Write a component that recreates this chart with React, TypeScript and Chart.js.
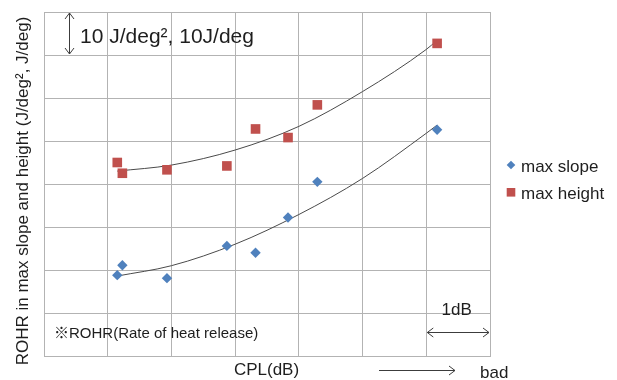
import React, { useEffect, useRef } from "react";
import { Chart, registerables } from "chart.js";

Chart.register(...registerables);

// CPL offset (dB) of each measurement
const cplValues = [1.15, 1.23, 1.93, 2.87, 3.32, 3.83, 4.29, 6.17];
// ROHR max slope (J/deg^2)
const maxSlope = [18.8, 21.1, 18.1, 25.6, 24.0, 32.2, 40.5, 52.6];
// ROHR max height (J/deg)
const maxHeight = [45.0, 42.5, 43.3, 44.2, 52.8, 50.8, 58.4, 72.7];

// trendline points
const trendX = [1.15, 2, 3, 4, 5, 6, 6.17];
const slopeTrend = [18.6, 21.0, 26.0, 32.9, 41.3, 51.8, 53.7];
const heightTrend = [43.0, 44.4, 47.9, 53.4, 61.5, 71.3, 73.4];

const legendLabels = ["max slope", "max height"];
const yTitle = "ROHR in max slope and height (J/deg\u00B2, J/deg)";
const xTitle = "CPL(dB)";
const scaleNote = "10 J/deg\u00B2, 10J/deg";
const rohrNote = "\u203BROHR(Rate of heat release)";
const dbNote = "1dB";
const badNote = "bad";

const FONT = '"Liberation Sans", Arial, "Noto Sans CJK JP", sans-serif';
const BLUE = "#4F81BD";
const RED = "#C0504D";
const TEXT = "#1e1e1e";

function arrowHead(ctx: CanvasRenderingContext2D, x: number, y: number, dx: number, dy: number, s: number) {
  // open chevron pointing in direction (dx, dy)
  const px = -dy, py = dx;
  ctx.beginPath();
  ctx.moveTo(x - dx * s + px * s * 0.75, y - dy * s + py * s * 0.75);
  ctx.lineTo(x, y);
  ctx.lineTo(x - dx * s - px * s * 0.75, y - dy * s - py * s * 0.75);
  ctx.stroke();
}

const annotationPlugin = {
  id: "annotations",
  afterDraw(chart: any) {
    const ctx: CanvasRenderingContext2D = chart.ctx;
    const xs = chart.scales.x;
    const ys = chart.scales.y;
    ctx.save();
    ctx.fillStyle = TEXT;
    ctx.strokeStyle = "#3c3c3c";
    ctx.lineWidth = 1;

    // Y axis title
    ctx.save();
    ctx.translate(23, 191);
    ctx.rotate(-Math.PI / 2);
    ctx.font = `17px ${FONT}`;
    ctx.textAlign = "center";
    ctx.textBaseline = "middle";
    ctx.fillText(yTitle, 0, 0);
    ctx.restore();

    // X axis title
    ctx.font = `17px ${FONT}`;
    ctx.textAlign = "center";
    ctx.textBaseline = "alphabetic";
    ctx.fillText(xTitle, 266.5, 374.5);

    // vertical 10-unit arrow
    const ax = 69.5;
    const yTop = ys.getPixelForValue(80);
    const yBot = ys.getPixelForValue(70);
    ctx.beginPath();
    ctx.moveTo(ax, yTop + 1);
    ctx.lineTo(ax, yBot - 1);
    ctx.stroke();
    arrowHead(ctx, ax, yTop + 1, 0, -1, 6);
    arrowHead(ctx, ax, yBot - 1, 0, 1, 6);

    ctx.font = `21px ${FONT}`;
    ctx.textAlign = "left";
    ctx.fillText(scaleNote, 80, 42.5);

    // ROHR note
    ctx.font = `15px ${FONT}`;
    ctx.fillText(rohrNote, 54, 338);

    // 1dB arrow
    const x6 = xs.getPixelForValue(6);
    const x7 = xs.getPixelForValue(7);
    const ay = 332.5;
    ctx.beginPath();
    ctx.moveTo(x6 + 1, ay);
    ctx.lineTo(x7 - 1, ay);
    ctx.stroke();
    arrowHead(ctx, x6 + 1, ay, -1, 0, 6);
    arrowHead(ctx, x7 - 1, ay, 1, 0, 6);
    ctx.font = `17px ${FONT}`;
    ctx.fillText(dbNote, 441.5, 315);

    // bad arrow
    const by = 370.5;
    ctx.beginPath();
    ctx.moveTo(379, by);
    ctx.lineTo(455, by);
    ctx.stroke();
    arrowHead(ctx, 455, by, 1, 0, 6);
    ctx.fillText(badNote, 480, 378);

    // legend
    ctx.fillStyle = BLUE;
    ctx.beginPath();
    ctx.moveTo(511, 160.7);
    ctx.lineTo(515.3, 165);
    ctx.lineTo(511, 169.3);
    ctx.lineTo(506.7, 165);
    ctx.closePath();
    ctx.fill();
    ctx.fillStyle = RED;
    ctx.fillRect(506.7, 188, 8.6, 8.6);
    ctx.fillStyle = TEXT;
    ctx.font = `17px ${FONT}`;
    ctx.fillText(legendLabels[0], 521, 172);
    ctx.fillText(legendLabels[1], 521, 199);

    ctx.restore();
  },
};

export default function App() {
  const canvasRef = useRef<HTMLCanvasElement | null>(null);

  useEffect(() => {
    document.body.style.margin = "0";
    const canvas = canvasRef.current;
    if (!canvas) return;
    const pts = (xs: number[], ys: number[]) => xs.map((x, i) => ({ x, y: ys[i] }));
    const chart = new Chart(canvas, {
      type: "scatter",
      data: {
        datasets: [
          {
            label: legendLabels[0],
            data: pts(cplValues, maxSlope),
            pointStyle: "rectRot",
            pointRadius: 5.2,
            pointHoverRadius: 5.2,
            backgroundColor: BLUE,
            borderWidth: 0,
            order: 1,
          },
          {
            label: legendLabels[1],
            data: pts(cplValues, maxHeight),
            pointStyle: "rect",
            pointRadius: 6.8,
            pointHoverRadius: 6.8,
            backgroundColor: RED,
            borderWidth: 0,
            order: 1,
          },
          {
            label: "slope trend",
            data: pts(trendX, slopeTrend),
            showLine: true,
            pointRadius: 0,
            borderColor: "#4a4a4a",
            borderWidth: 1,
            cubicInterpolationMode: "monotone",
            order: 2,
          },
          {
            label: "height trend",
            data: pts(trendX, heightTrend),
            showLine: true,
            pointRadius: 0,
            borderColor: "#4a4a4a",
            borderWidth: 1,
            cubicInterpolationMode: "monotone",
            order: 2,
          },
        ],
      },
      options: {
        responsive: false,
        animation: false,
        layout: { padding: { left: 44, top: 12, right: 127, bottom: 24 } },
        plugins: { legend: { display: false }, tooltip: { enabled: false } },
        scales: {
          x: {
            type: "linear",
            min: 0,
            max: 7,
            ticks: { display: false, stepSize: 1 },
            grid: { color: "#b3b3b3", lineWidth: 1, drawTicks: false },
            border: { color: "#b3b3b3" },
          },
          y: {
            type: "linear",
            min: 0,
            max: 80,
            ticks: { display: false, stepSize: 10 },
            grid: { color: "#b3b3b3", lineWidth: 1, drawTicks: false },
            border: { color: "#b3b3b3" },
          },
        },
      },
      plugins: [annotationPlugin],
    });
    return () => chart.destroy();
  }, []);

  return (
    <div style={{ width: 617, height: 380, background: "#fff" }}>
      <canvas ref={canvasRef} width={617} height={380} style={{ width: 617, height: 380, display: "block" }} />
    </div>
  );
}
